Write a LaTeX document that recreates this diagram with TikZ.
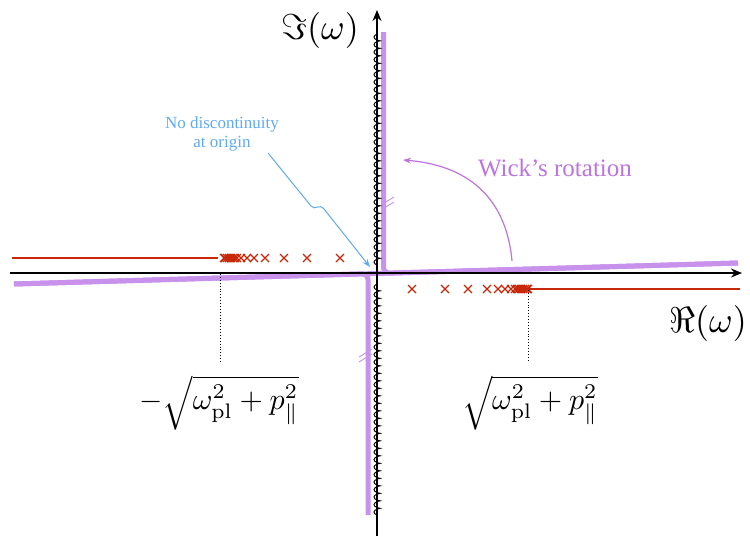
\documentclass[tikz,border=0pt]{standalone}
\usepackage{graphicx}
\usepackage{fontspec}
\newfontfamily\timesf{Liberation Serif}
\usetikzlibrary{decorations.pathmorphing,arrows.meta}
\definecolor{wickpurple}{RGB}{200,145,235}
\definecolor{wicktext}{RGB}{190,115,225}
\definecolor{cutred}{RGB}{200,40,10}
\definecolor{noteblue}{RGB}{95,170,245}
\tikzset{
  axis/.style={line width=1.8pt,-{Stealth[length=11pt,width=9pt]}},
  contour/.style={wickpurple,line width=5pt,rounded corners=6pt},
  cut/.style={cutred,line width=2pt},
  pole/.style={cutred,line width=1.2pt},
  coilstyle/.style={black,line width=1pt,decorate,decoration={coil,amplitude=3pt,segment length=7.5pt,aspect=0.35}},
  hatch/.style={wickpurple,line width=0.9pt},
  thr/.style={black,line width=0.9pt,dotted},
  mathlab/.style={inner sep=0pt},
}
\newcommand{\polemark}[2]{\draw[pole] (#1-4,#2-4) -- (#1+4,#2+4) (#1-4,#2+4) -- (#1+4,#2-4);}
\newcommand{\bigmath}[1]{\scalebox{3}{$#1$}}
\newcommand{\axmath}[1]{\scalebox{3.6}{$#1$}}
\begin{document}
\begin{tikzpicture}[x=1pt,y=-1pt]
\useasboundingbox (0,0) rectangle (750,536);
% purple contour
\draw[contour] (14,284) -- (738,263);
\draw[contour] (14,284) -- (368,273.7) -- (368,515);
\draw[contour] (738,263) -- (383.5,273.3) -- (383.5,32);
% hatches
\draw[hatch] (381,205) -- (394,197) (381,210) -- (394,202);
\draw[hatch] (359,357) -- (372,349) (359,362) -- (372,354);
% axes
\coordinate (xs) at (10,273);
\coordinate (xe) at (742,273);
\coordinate (ys) at (377,536);
\coordinate (ye) at (377,10);
\draw[axis] (xs) -- (xe);
\draw[axis] (ys) -- (ye);
% coil on imaginary axis
\coordinate (c1) at (377,265);
\coordinate (c2) at (377,30);
\coordinate (c3) at (377,515);
\coordinate (c4) at (377,281);
\draw[coilstyle] (c1) -- (c2);
\draw[coilstyle] (c3) -- (c4);
% branch cuts
\coordinate (lc1) at (12,258);
\coordinate (lc2) at (218,258);
\coordinate (rc1) at (528,289);
\coordinate (rc2) at (740,289);
\draw[cut] (lc1) -- (lc2);
\draw[cut] (rc1) -- (rc2);
% poles
\foreach \d in {36,69,92,111,122,129,135,139,141,143,145,147,149,151,152}{
  \polemark{376-\d}{258}
  \polemark{376+\d}{289}
}
% thresholds
\coordinate (t1a) at (220,274);
\coordinate (t1b) at (220,362);
\coordinate (t2a) at (528,290);
\coordinate (t2b) at (528,362);
\draw[thr] (t1a) -- (t1b);
\draw[thr] (t2a) -- (t2b);
\node[mathlab] (lneg) at (219,403) {\bigmath{-\sqrt{\omega_{\mathrm{pl}}^2+p_\parallel^2}}};
\node[mathlab] (lpos) at (530,403) {\bigmath{\sqrt{\omega_{\mathrm{pl}}^2+p_\parallel^2}}};
% axis labels
\node[mathlab] (imlab) at (320,30) {\axmath{\Im(\omega)}};
\node[mathlab] (relab) at (708,323) {\axmath{\Re(\omega)}};
% Wick rotation
\node[wicktext,font=\timesf\fontsize{25}{30}\selectfont,inner sep=0pt] (wick) at (555,168) {Wick’s rotation};
\coordinate (wa) at (512,261);
\coordinate (wb) at (403,160);
\draw[wicktext,line width=1.2pt,-{Stealth[length=8pt,width=6pt]}] (wa) .. controls (506,195) and (465,165) .. (wb);
% note
\node[noteblue,font=\timesf\fontsize{17}{19}\selectfont,align=center,inner sep=0pt] (note) at (222,134) {No discontinuity\\at origin};
\coordinate (na) at (268,153);
\coordinate (nb) at (370,267);
\draw[noteblue,line width=1pt,-{Stealth[length=8pt,width=6pt]}] (na) -- (311,206) .. controls (315,211) and (319,203) .. (324,209) -- (nb);
\end{tikzpicture}
\end{document}
